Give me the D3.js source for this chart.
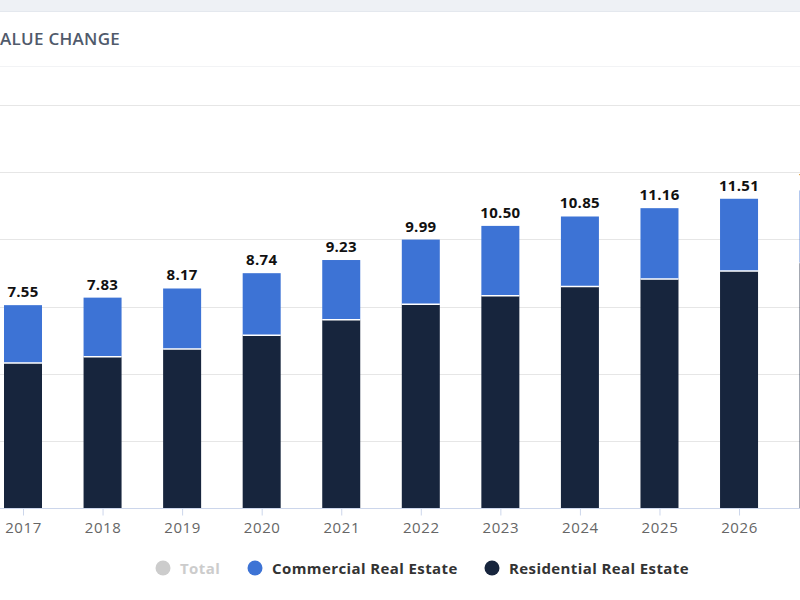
<!DOCTYPE html>
<html>
<head>
<meta charset="utf-8">
<script src="https://cdn.jsdelivr.net/npm/d3@7"></script>
<style>
  html, body { margin: 0; padding: 0; background: #ffffff; overflow: hidden; }
  svg { display: block; }
</style>
</head>
<body>
<svg id="chart" width="800" height="600"></svg>
<script>
// ---- data ----
const years = ["2017","2018","2019","2020","2021","2022","2023","2024","2025","2026","2027"];
const residential = [5.40, 5.63, 5.92, 6.43, 7.01, 7.58, 7.90, 8.24, 8.52, 8.82, 9.13];
const totals = [7.55, 7.83, 8.17, 8.74, 9.23, 9.99, 10.50, 10.85, 11.16, 11.51, 11.82];
const commercial = totals.map((t, i) => +(t - residential[i]).toFixed(2));
const yTicks = [0, 2.5, 5, 7.5, 10, 12.5, 15];
const legendItems = ["Total", "Commercial Real Estate", "Residential Real Estate"];
const title = "VALUE CHANGE";

// ---- drawing ----
const svg = d3.select("#chart");
const font = "'Open Sans', 'Noto Sans', sans-serif";

// top strip
svg.append("rect").attr("x", 0).attr("y", 0).attr("width", 800).attr("height", 11).attr("fill", "#eef1f5");
svg.append("line").attr("x1", 0).attr("x2", 800).attr("y1", 11.5).attr("y2", 11.5).attr("stroke", "#e4e8ee");

// title
svg.append("text").attr("x", -11).attr("y", 45)
  .attr("font-family", font).attr("font-size", 17).attr("font-weight", 600)
  .attr("fill", "#505a6b").attr("letter-spacing", 0.3).text(title);
svg.append("line").attr("x1", 0).attr("x2", 800).attr("y1", 66.5).attr("y2", 66.5).attr("stroke", "#f2f3f5");

const y = d3.scaleLinear().domain([0, 15]).range([508, 105]);
const x = d3.scalePoint().domain(years).range([23, 23 + 79.56 * 10]);
const bw = 38;

// gridlines
svg.append("g").selectAll("line").data(yTicks.filter(d => d > 0)).join("line")
  .attr("x1", 0).attr("x2", 800)
  .attr("y1", d => Math.round(y(d)) + 0.5).attr("y2", d => Math.round(y(d)) + 0.5)
  .attr("stroke", "#e6e6e6");

// bars
const g = svg.append("g");
years.forEach((yr, i) => {
  const cx = x(yr);
  g.append("rect").attr("x", cx - bw / 2).attr("width", bw)
    .attr("y", y(residential[i])).attr("height", y(0) - y(residential[i]))
    .attr("fill", "#17253d");
  g.append("rect").attr("x", cx - bw / 2).attr("width", bw)
    .attr("y", y(totals[i])).attr("height", y(residential[i]) - y(totals[i]))
    .attr("fill", "#3d73d5");
  g.append("line").attr("x1", cx - bw / 2).attr("x2", cx + bw / 2)
    .attr("y1", y(residential[i])).attr("y2", y(residential[i]))
    .attr("stroke", "#ffffff").attr("stroke-width", 1.5);
  g.append("text").attr("x", cx).attr("y", y(totals[i]) - 8)
    .attr("text-anchor", "middle").attr("font-family", font)
    .attr("font-size", 15).attr("font-weight", 700).attr("fill", "#111")
    .attr("letter-spacing", 0.3)
    .text(totals[i].toFixed(2));
});

// x axis
const xAxis = d3.axisBottom(x).tickSize(7).tickPadding(7);
const ax = svg.append("g").attr("transform", "translate(0,508.5)").call(xAxis);
ax.select(".domain").remove();
ax.insert("line", ":first-child").attr("x1", 0).attr("x2", 800).attr("y1", 0).attr("y2", 0).attr("stroke", "#ccd6eb");
ax.selectAll(".tick line").attr("stroke", "#ccd6eb");
ax.selectAll(".tick text").attr("font-family", font).attr("font-size", 15)
  .attr("letter-spacing", 0.6).attr("fill", "#666");

// legend
const legendColors = ["#cccccc", "#3d73d5", "#17253d"];
const legendTextColors = ["#cccccc", "#333333", "#333333"];
const legendX = [163, 255, 492];
const lg = svg.append("g");
legendItems.forEach((name, i) => {
  lg.append("circle").attr("cx", legendX[i]).attr("cy", 568).attr("r", 7.5).attr("fill", legendColors[i]);
  lg.append("text").attr("x", legendX[i] + 17).attr("y", 573.5)
    .attr("font-family", font).attr("font-size", 15).attr("font-weight", 700)
    .attr("letter-spacing", 0.4)
    .attr("fill", legendTextColors[i]).text(name);
});
</script>
</body>
</html>
